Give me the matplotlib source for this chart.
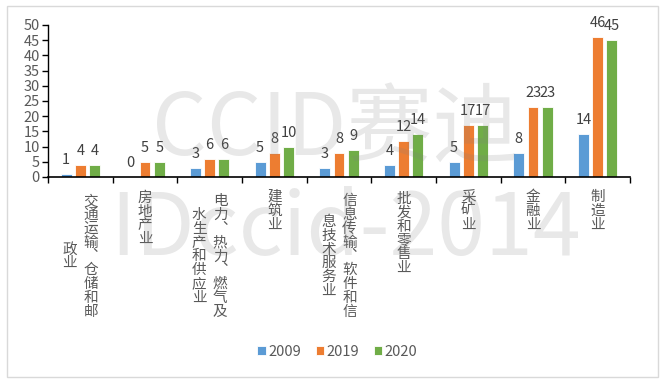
import numpy as np
import matplotlib
matplotlib.use('Agg')
import matplotlib.pyplot as plt
from matplotlib.patches import Rectangle

plt.rcParams['font.family'] = ['Noto Sans CJK SC', 'DejaVu Sans']

categories = ["交通运输、仓储和邮政业", "房地产业", "电力、热力、燃气及水生产和供应业",
              "建筑业", "信息传输、软件和信息技术服务业", "批发和零售业",
              "采矿业", "金融业", "制造业"]
years = ["2009", "2019", "2020"]
v2009 = [1, 0, 3, 5, 3, 4, 5, 8, 14]
v2019 = [4, 5, 6, 8, 8, 12, 17, 23, 46]
v2020 = [4, 5, 6, 10, 9, 14, 17, 23, 45]
yticks = [0, 5, 10, 15, 20, 25, 30, 35, 40, 45, 50]

colors = ["#5B9BD5", "#ED7D31", "#70AD47"]
TXT = "#595959"
FS = 10.5

fig = plt.figure(figsize=(6.64, 3.83), dpi=100)
ax = fig.add_axes([48 / 664, 1 - 177 / 383, 582 / 664, 152 / 383])

x = np.arange(len(categories))
width = 0.17
step = 0.22
for k, (vals, c) in enumerate(zip([v2009, v2019, v2020], colors)):
    xs = x + (k - 1) * step
    ax.bar(xs, vals, width, color=c, edgecolor="white", linewidth=0.6,
           label=years[k], zorder=2)
    for xi, v in zip(xs, vals):
        ax.annotate(str(v), (xi, v), xytext=(0, 7), textcoords="offset pixels",
                    ha="center", va="bottom", fontsize=FS, color="#404040")

ax.set_xlim(-0.5, len(categories) - 0.5)
ax.set_ylim(0, 50)
ax.set_yticks(yticks)
ax.set_xticks(np.arange(len(categories) + 1) - 0.5)
ax.set_xticklabels([])
ax.tick_params(axis="both", direction="out", length=4, width=1, color="black",
               labelsize=FS, labelcolor=TXT, pad=2)
for s in ["top", "right"]:
    ax.spines[s].set_visible(False)
ax.spines["left"].set_linewidth(1)
ax.spines["bottom"].set_linewidth(1.2)

# vertical category labels: columns of up to 9 chars, read right to left,
# shorter columns centred on the longest one
per_col = 9
char_h = 15.2
col_gap = 21
for i, name in enumerate(categories):
    name = name.replace("、", "\ufe11")
    cols = [name[j:j + per_col] for j in range(0, len(name), per_col)]
    n = len(cols)
    longest = max(len(c) for c in cols)
    mid = 11 + longest * char_h / 2
    for ci, col in enumerate(cols):
        dx = ((n - 1) / 2 - ci) * col_gap
        ax.annotate("\n".join(col), (i, 0), xycoords=("data", "axes fraction"),
                    xytext=(dx, -mid), textcoords="offset pixels",
                    ha="center", va="center", ma="center", linespacing=0.98,
                    fontsize=FS, color=TXT)

fig.legend(loc="center", bbox_to_anchor=(0.508, 0.081), ncol=3, frameon=False,
           fontsize=FS, handlelength=0.6, handleheight=0.6, handletextpad=0.15,
           columnspacing=1.0, labelcolor=TXT)

# watermark
fig.text(0.505, 1 - 131 / 383, "CCID赛迪", ha="center", va="center",
         fontsize=62, color="gray", alpha=0.18, fontweight="light", zorder=10)
fig.text(0.52, 1 - 231 / 383, "IDccid-2014", ha="center", va="center",
         fontsize=62, color="gray", alpha=0.18, fontweight="light", zorder=10)

fig.patches.append(Rectangle((7 / 664, 6 / 383), 651 / 664, 371 / 383,
                             transform=fig.transFigure, fill=False,
                             edgecolor="#d9d9d9", linewidth=1))

fig.savefig("out.png", dpi=100)
